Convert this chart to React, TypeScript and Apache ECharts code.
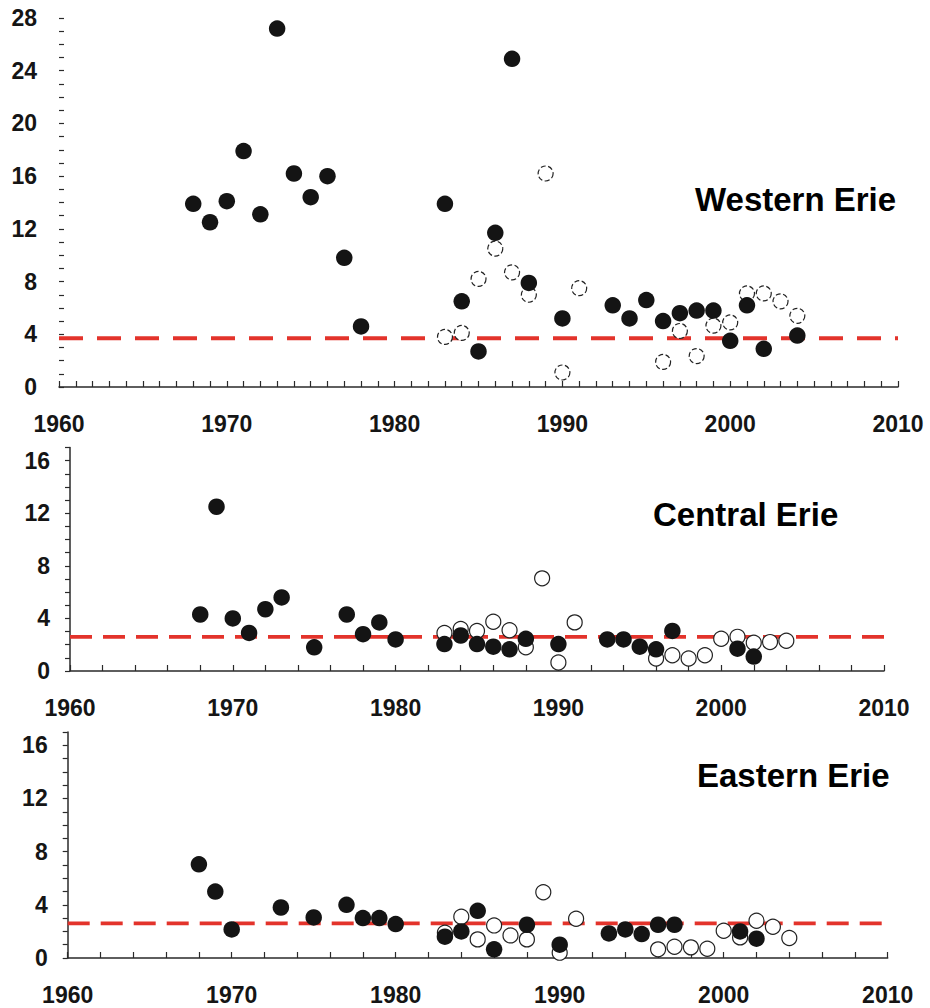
import React, { useEffect, useRef } from "react";
import * as echarts from "echarts";

// Western Erie
const westFilledYears = [1968, 1969, 1970, 1971, 1972, 1973, 1974, 1975, 1976, 1977, 1978, 1983, 1984, 1985, 1986, 1987, 1988, 1990, 1993, 1994, 1995, 1996, 1997, 1998, 1999, 2000, 2001, 2002, 2004];
const westFilledValues = [13.9, 12.5, 14.1, 17.9, 13.1, 27.2, 16.2, 14.4, 16.0, 9.8, 4.6, 13.9, 6.5, 2.7, 11.7, 24.9, 7.9, 5.2, 6.2, 5.2, 6.6, 5.0, 5.6, 5.8, 5.8, 3.5, 6.2, 2.9, 3.9];
const westOpenYears = [1983, 1984, 1985, 1986, 1987, 1988, 1989, 1990, 1991, 1996, 1997, 1998, 1999, 2000, 2001, 2002, 2003, 2004];
const westOpenValues = [3.8, 4.1, 8.2, 10.5, 8.7, 7.0, 16.2, 1.1, 7.5, 1.9, 4.25, 2.35, 4.65, 4.9, 7.1, 7.1, 6.5, 5.4];
const westRef = 3.7;

// Central Erie
const centralFilledYears = [1968, 1969, 1970, 1971, 1972, 1973, 1975, 1977, 1978, 1979, 1980, 1983, 1984, 1985, 1986, 1987, 1988, 1990, 1993, 1994, 1995, 1996, 1997, 2001, 2002];
const centralFilledValues = [4.3, 12.5, 4.0, 2.9, 4.7, 5.6, 1.8, 4.3, 2.8, 3.7, 2.4, 2.05, 2.7, 2.05, 1.85, 1.65, 2.45, 2.05, 2.4, 2.4, 1.85, 1.65, 3.05, 1.7, 1.1];
const centralOpenYears = [1983, 1984, 1985, 1986, 1987, 1988, 1989, 1990, 1991, 1996, 1997, 1998, 1999, 2000, 2001, 2002, 2003, 2004];
const centralOpenValues = [2.9, 3.2, 3.05, 3.75, 3.1, 1.8, 7.05, 0.65, 3.7, 0.95, 1.2, 0.95, 1.2, 2.45, 2.6, 2.15, 2.2, 2.3];
const centralRef = 2.6;

// Eastern Erie
const eastFilledYears = [1968, 1969, 1970, 1973, 1975, 1977, 1978, 1979, 1980, 1983, 1984, 1985, 1986, 1988, 1990, 1993, 1994, 1995, 1996, 1997, 2001, 2002];
const eastFilledValues = [7.05, 5.0, 2.15, 3.8, 3.05, 4.0, 3.0, 3.0, 2.55, 1.6, 2.0, 3.55, 0.65, 2.5, 1.0, 1.85, 2.15, 1.8, 2.5, 2.5, 2.0, 1.45];
const eastOpenYears = [1983, 1984, 1985, 1986, 1987, 1988, 1989, 1990, 1991, 1996, 1997, 1998, 1999, 2000, 2001, 2002, 2003, 2004];
const eastOpenValues = [1.9, 3.1, 1.4, 2.45, 1.7, 1.4, 4.95, 0.4, 2.95, 0.65, 0.85, 0.8, 0.7, 2.05, 1.55, 2.8, 2.35, 1.5];
const eastRef = 2.6;

const panelTitles = ["Western Erie", "Central Erie", "Eastern Erie"];
const xMin = 1960;
const xMax = 2010;

const zip = (xs: number[], ys: number[]) => xs.map((x, i) => [x, ys[i]]);

const FONT = "'Liberation Sans', Arial, sans-serif";
const AXIS_COLOR = "#2a2a2a";

export default function App() {
  const ref = useRef<HTMLDivElement>(null);

  useEffect(() => {
    if (!ref.current) return;
    const chart = echarts.init(ref.current, undefined, { renderer: "svg" });

    const panels = [
      { filled: zip(westFilledYears, westFilledValues), open: zip(westOpenYears, westOpenValues), refV: westRef, yMax: 28, dashedOpen: true },
      { filled: zip(centralFilledYears, centralFilledValues), open: zip(centralOpenYears, centralOpenValues), refV: centralRef, yMax: 17, dashedOpen: false },
      { filled: zip(eastFilledYears, eastFilledValues), open: zip(eastOpenYears, eastOpenValues), refV: eastRef, yMax: 17, dashedOpen: false },
    ];

    const grids = [
      { left: 59, top: 18, width: 839, height: 369 },
      { left: 70, top: 447.6, width: 814, height: 223.4 },
      { left: 67.7, top: 732, width: 820, height: 226 },
    ];

    const labelStyle = {
      color: "#151515",
      fontWeight: "bold" as const,
      fontSize: 23,
      fontFamily: FONT,
    };

    const xAxis = panels.map((p, i) => ({
      type: "value",
      gridIndex: i,
      min: xMin,
      max: xMax,
      interval: i === 0 ? 1 : 2,
      axisLine: { show: true, lineStyle: { color: AXIS_COLOR, width: 1.5 } },
      axisTick: { show: true, inside: true, length: 6, lineStyle: { color: AXIS_COLOR, width: 1.2 } },
      splitLine: { show: false },
      axisLabel: {
        ...labelStyle,
        margin: 25,
        formatter: (v: number) => (v % 10 === 0 ? String(v) : ""),
      },
    }));

    const yAxis = panels.map((p, i) => ({
      type: "value",
      gridIndex: i,
      min: 0,
      max: p.yMax,
      interval: 1,
      axisLine: { show: i !== 0, lineStyle: { color: AXIS_COLOR, width: 1.5 } },
      axisTick: { show: true, inside: i === 0, length: 5, lineStyle: { color: AXIS_COLOR, width: 1.2 } },
      splitLine: { show: false },
      axisLabel: {
        ...labelStyle,
        margin: i === 0 ? 22 : 20,
        formatter: (v: number) => (v % 4 === 0 ? String(v) : ""),
      },
    }));

    const series: any[] = [];
    panels.forEach((p, i) => {
      series.push({
        type: "line",
        xAxisIndex: i,
        yAxisIndex: i,
        data: [[xMin, p.refV], [xMax, p.refV]],
        symbol: "none",
        silent: true,
        z: 1,
        lineStyle: { color: "#e3332b", width: 3.8, type: i === 0 ? [24, 14] : [22, 11] },
      });
      series.push({
        type: "scatter",
        xAxisIndex: i,
        yAxisIndex: i,
        data: p.open,
        symbol: "circle",
        symbolSize: 15,
        z: 2,
        itemStyle: {
          color: "#ffffff",
          borderColor: "#222",
          borderWidth: 1.2,
          borderType: p.dashedOpen ? [5, 2.5] : "solid",
          opacity: 1,
        },
      });
      series.push({
        type: "scatter",
        xAxisIndex: i,
        yAxisIndex: i,
        data: p.filled,
        symbol: "circle",
        symbolSize: 16.5,
        z: 3,
        itemStyle: { color: "#141414", opacity: 1 },
      });
    });

    const titlePos = [
      { x: 695, y: 199 },
      { x: 653, y: 514 },
      { x: 697, y: 775 },
    ];

    chart.setOption({
      animation: false,
      backgroundColor: "#ffffff",
      grid: grids,
      xAxis,
      yAxis,
      series,
      graphic: panelTitles.map((t, i) => ({
        type: "text",
        x: titlePos[i].x,
        y: titlePos[i].y,
        style: {
          text: t,
          fill: "#000",
          font: `bold 33px ${FONT}`,
          verticalAlign: "middle",
          align: "left",
        },
      })),
    });

    return () => chart.dispose();
  }, []);

  return (
    <div
      ref={ref}
      style={{ position: "absolute", left: 0, top: 0, width: 930, height: 1008, background: "#fff" }}
    />
  );
}
